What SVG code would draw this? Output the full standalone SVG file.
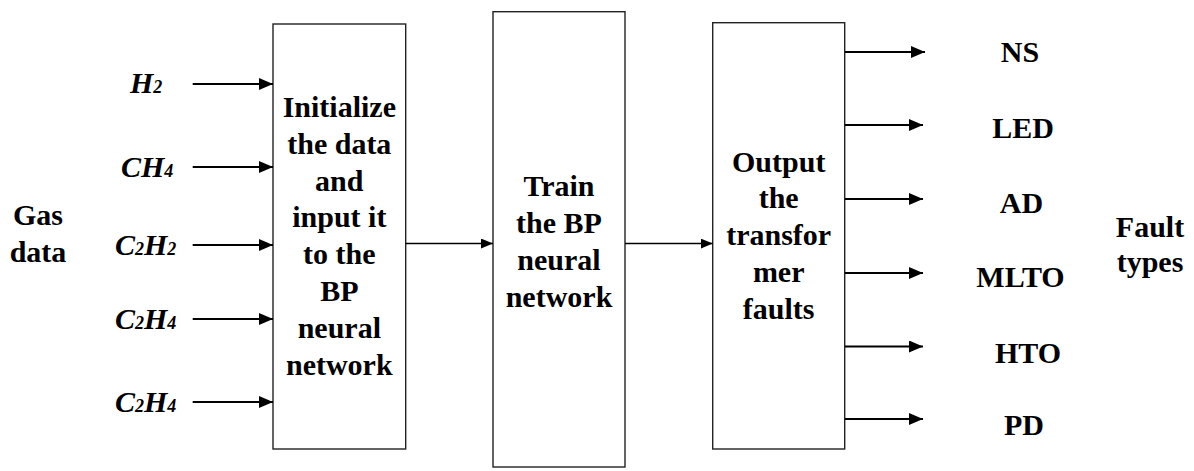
<svg xmlns="http://www.w3.org/2000/svg" width="1194" height="471" viewBox="0 0 1194 471">
<style>
  .box { fill: #ffffff; stroke: #222222; stroke-width: 1.4; }
  .t { font-family: "Liberation Serif", "Times New Roman", serif; font-weight: bold; font-size: 30px; fill: #000000; text-anchor: middle; }
  .gas { font-family: "Liberation Serif", "Times New Roman", serif; font-weight: bold; font-style: italic; font-size: 30px; fill: #000000; }
  .sub { font-size: 18px; }
  .thick { stroke: #000000; stroke-width: 2.2; fill: none; }
  .thin { stroke: #000000; stroke-width: 1.4; fill: none; }
</style>
<defs>
  <marker id="ah" markerUnits="userSpaceOnUse" markerWidth="14" markerHeight="12" refX="14" refY="6" orient="auto">
    <path d="M0,0 L14,6 L0,12 z" fill="#000000"/>
  </marker>
  <marker id="ahs" markerUnits="userSpaceOnUse" markerWidth="12" markerHeight="10" refX="12" refY="5" orient="auto">
    <path d="M0,0 L12,5 L0,10 z" fill="#000000"/>
  </marker>
</defs>
<rect width="1194" height="471" fill="#ffffff"/>

<g id="gas-data">
  <text class="t" x="38" y="225">Gas</text>
  <text class="t" x="38" y="262">data</text>
</g>

<g id="inputs">
  <text class="gas" x="130" y="93">H<tspan class="sub">2</tspan></text>
  <text class="gas" x="121" y="177">CH<tspan class="sub">4</tspan></text>
  <text class="gas" x="115" y="255">C<tspan class="sub">2</tspan>H<tspan class="sub">2</tspan></text>
  <text class="gas" x="115" y="329">C<tspan class="sub">2</tspan>H<tspan class="sub">4</tspan></text>
  <text class="gas" x="115" y="412">C<tspan class="sub">2</tspan>H<tspan class="sub">4</tspan></text>
</g>

<g id="node-init">
  <rect class="box" x="273" y="24" width="132.7" height="425"/>
  <text class="t" x="339.3" y="117">Initialize</text>
  <text class="t" x="339.3" y="153.8">the data</text>
  <text class="t" x="339.3" y="190.6">and</text>
  <text class="t" x="339.3" y="227.4">input it</text>
  <text class="t" x="339.3" y="264.2">to the</text>
  <text class="t" x="339.3" y="301">BP</text>
  <text class="t" x="339.3" y="337.8">neural</text>
  <text class="t" x="339.3" y="374.6">network</text>
</g>

<g id="node-train">
  <rect class="box" x="493" y="11.7" width="132" height="455.3"/>
  <text class="t" x="559" y="196.2">Train</text>
  <text class="t" x="559" y="233">the BP</text>
  <text class="t" x="559" y="269.8">neural</text>
  <text class="t" x="559" y="306.6">network</text>
</g>

<g id="node-output">
  <rect class="box" x="712.7" y="22.7" width="132" height="426.3"/>
  <text class="t" x="778.7" y="171.5">Output</text>
  <text class="t" x="778.7" y="208.3">the</text>
  <text class="t" x="778.7" y="245.1">transfor</text>
  <text class="t" x="778.7" y="281.9">mer</text>
  <text class="t" x="778.7" y="318.7">faults</text>
</g>

<g id="fault-labels">
  <text class="t" x="1020" y="62">NS</text>
  <text class="t" x="1023" y="138">LED</text>
  <text class="t" x="1021.5" y="213">AD</text>
  <text class="t" x="1020.5" y="287">MLTO</text>
  <text class="t" x="1028" y="363">HTO</text>
  <text class="t" x="1024" y="435">PD</text>
</g>

<g id="fault-types">
  <text class="t" x="1150" y="237">Fault</text>
  <text class="t" x="1150" y="272">types</text>
</g>

<g id="connectors">
  <line class="thick" x1="192.7" y1="84" x2="273" y2="84" marker-end="url(#ah)"/>
  <line class="thick" x1="192.7" y1="167" x2="273" y2="167" marker-end="url(#ah)"/>
  <line class="thick" x1="192.7" y1="245" x2="273" y2="245" marker-end="url(#ah)"/>
  <line class="thick" x1="192.7" y1="319" x2="273" y2="319" marker-end="url(#ah)"/>
  <line class="thick" x1="192.7" y1="402" x2="273" y2="402" marker-end="url(#ah)"/>

  <line class="thin" x1="405.7" y1="243.5" x2="493" y2="243.5" marker-end="url(#ahs)"/>
  <line class="thin" x1="625" y1="243.5" x2="712.7" y2="243.5" marker-end="url(#ahs)"/>

  <line class="thick" x1="845" y1="52" x2="925" y2="52" marker-end="url(#ah)"/>
  <line class="thick" x1="845" y1="125" x2="923" y2="125" marker-end="url(#ah)"/>
  <line class="thick" x1="845" y1="199" x2="923" y2="199" marker-end="url(#ah)"/>
  <line class="thick" x1="845" y1="273" x2="923" y2="273" marker-end="url(#ah)"/>
  <line class="thick" x1="845" y1="346.5" x2="923" y2="346.5" marker-end="url(#ah)"/>
  <line class="thick" x1="845" y1="419" x2="923" y2="419" marker-end="url(#ah)"/>
</g>
</svg>
